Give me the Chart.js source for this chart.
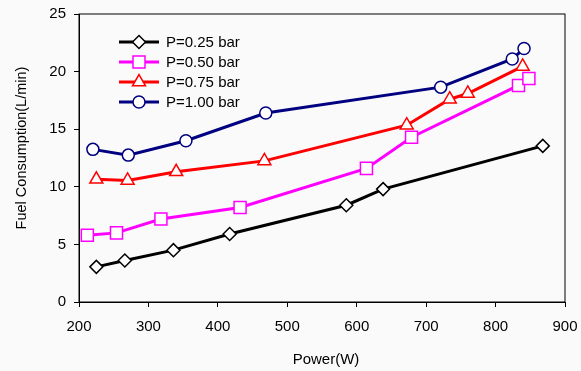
<!DOCTYPE html>
<html>
<head>
<meta charset="utf-8">
<script src="https://cdn.jsdelivr.net/npm/chart.js@4"></script>
<style>
  html, body { margin: 0; padding: 0; background: #fafafa; }
  #wrap { width: 581px; height: 371px; }
</style>
</head>
<body>
<div id="wrap"><canvas id="myChart" width="581" height="371"></canvas></div>
<script>
const seriesNames = ['P=0.25 bar', 'P=0.50 bar', 'P=0.75 bar', 'P=1.00 bar'];

const power025 = [225, 266, 336, 417, 585, 638, 868];
const fuel025 = [3.05, 3.6, 4.5, 5.9, 8.4, 9.8, 13.55];
const power050 = [212, 254, 318, 432, 614, 679, 833, 848];
const fuel050 = [5.8, 6.0, 7.2, 8.2, 11.6, 14.3, 18.8, 19.4];
const power075 = [225, 270, 340, 467, 672, 734, 760, 839];
const fuel075 = [10.65, 10.55, 11.3, 12.25, 15.35, 17.6, 18.1, 20.45];
const power100 = [220, 271, 354, 469, 721, 824, 841];
const fuel100 = [13.25, 12.75, 14.0, 16.4, 18.65, 21.1, 22.0];

const xTicks = [200, 300, 400, 500, 600, 700, 800, 900];
const yTicks = [0, 5, 10, 15, 20, 25];
const xTitle = 'Power(W)';
const yTitle = 'Fuel Consumption(L/min)';

const toPoints = (xs, ys) => xs.map((x, i) => ({ x: x, y: ys[i] }));

const styles = [
    { color: '#000000', pointStyle: 'rectRot', radius: 6.5 },
    { color: '#ff00ff', pointStyle: 'rect', radius: 8.5 },
    { color: '#ff0000', pointStyle: 'triangle', radius: 7.5 },
    { color: '#000080', pointStyle: 'circle', radius: 6 }
];

const seriesData = [
    toPoints(power025, fuel025),
    toPoints(power050, fuel050),
    toPoints(power075, fuel075),
    toPoints(power100, fuel100)
];

const datasets = seriesNames.map((name, i) => ({
    label: name,
    data: seriesData[i],
    showLine: true,
    borderColor: styles[i].color,
    borderWidth: 3,
    pointStyle: styles[i].pointStyle,
    pointRadius: styles[i].radius,
    pointHoverRadius: styles[i].radius,
    pointBackgroundColor: '#ffffff',
    pointBorderColor: styles[i].color,
    pointBorderWidth: 1.5
}));

const fontFamily = 'Arial, "Liberation Sans", sans-serif';

// box round the plot area, axis titles, legend inside the plot
const framePlugin = {
    id: 'frame',
    afterDatasetsDraw(chart) {
        const { ctx, chartArea } = chart;
        ctx.save();
        ctx.strokeStyle = '#000';
        ctx.lineWidth = 1;
        ctx.strokeRect(chartArea.left, chartArea.top, chartArea.right - chartArea.left, chartArea.bottom - chartArea.top);

        ctx.fillStyle = '#000';
        ctx.textAlign = 'center';
        ctx.textBaseline = 'middle';
        ctx.font = '15px ' + fontFamily;
        ctx.fillText(xTitle, 326, 360);

        // y axis title sits a bit above the middle in the original
        ctx.save();
        ctx.translate(22, 148);
        ctx.rotate(-Math.PI / 2);
        ctx.font = '14.5px ' + fontFamily;
        ctx.fillText(yTitle, 0, 0);
        ctx.restore();

        ctx.textAlign = 'left';
        ctx.font = '15px ' + fontFamily;
        seriesNames.forEach((name, i) => {
            const y = 42 + i * 20;
            ctx.strokeStyle = styles[i].color;
            ctx.lineWidth = 3;
            ctx.beginPath();
            ctx.moveTo(119, y);
            ctx.lineTo(159, y);
            ctx.stroke();
            ctx.fillStyle = '#ffffff';
            ctx.lineWidth = 1.5;
            Chart.helpers.drawPoint(ctx, {
                pointStyle: styles[i].pointStyle,
                radius: styles[i].radius,
                rotation: 0,
                borderWidth: 1.5
            }, 139, y);
            ctx.fillStyle = '#000';
            ctx.fillText(name, 166, y + 1);
        });
        ctx.restore();
    }
};

const tickFont = { family: fontFamily, size: 15 };

// let layout.padding alone decide the plot edges
const noOverhang = (scale) => {
    scale.paddingTop = 0;
    scale.paddingBottom = 0;
    scale.paddingLeft = 0;
    scale.paddingRight = 0;
};

const ctx = document.getElementById('myChart').getContext('2d');
const myChart = new Chart(ctx, {
    type: 'scatter',
    data: { datasets: datasets },
    options: {
        responsive: false,
        animation: false,
        layout: { padding: { left: 0, right: 16, top: 14, bottom: 0 } },
        plugins: {
            legend: { display: false },
            tooltip: { enabled: false }
        },
        scales: {
            x: {
                type: 'linear',
                min: xTicks[0],
                max: xTicks[xTicks.length - 1],
                afterBuildTicks: (scale) => { scale.ticks = xTicks.map(v => ({ value: v })); },
                afterFit: (scale) => { scale.height = 69; noOverhang(scale); },
                grid: { drawOnChartArea: false, drawTicks: true, tickLength: 5, color: '#000' },
                border: { display: true, color: '#000', width: 1 },
                ticks: { color: '#000', font: tickFont, padding: 11, maxRotation: 0 }
            },
            y: {
                type: 'linear',
                min: yTicks[0],
                max: yTicks[yTicks.length - 1],
                afterBuildTicks: (scale) => { scale.ticks = yTicks.map(v => ({ value: v })); },
                afterFit: (scale) => { scale.width = 79; noOverhang(scale); },
                grid: { drawOnChartArea: false, drawTicks: true, tickLength: 5, color: '#000' },
                border: { display: true, color: '#000', width: 1 },
                ticks: { color: '#000', font: tickFont, padding: 8 }
            }
        }
    },
    plugins: [framePlugin]
});
</script>
</body>
</html>
